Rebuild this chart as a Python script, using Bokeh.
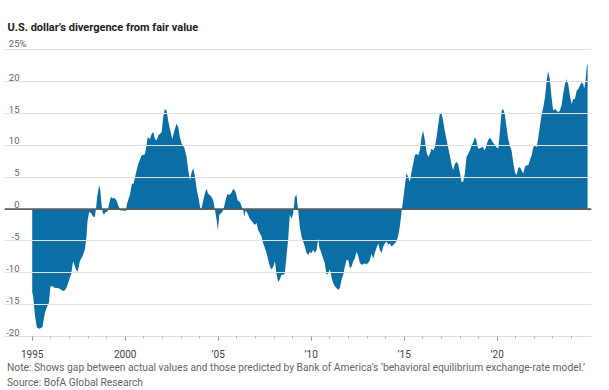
from bokeh.plotting import figure
from bokeh.models import FixedTicker, Span, ColumnDataSource, Range1d, Div
from bokeh.layouts import column
from bokeh.core.properties import value
from bokeh.embed import file_html
from bokeh.resources import INLINE

# ---- data ----
years = [
    1995.00, 1995.05, 1995.15, 1995.25, 1995.40, 1995.55, 1995.68, 1995.80, 1995.90, 1995.98,
    1996.10, 1996.22, 1996.40, 1996.58, 1996.70, 1996.84, 1996.99, 1997.10, 1997.20, 1997.35,
    1997.45, 1997.56, 1997.70, 1997.83, 1997.92, 1997.97, 1998.06, 1998.18, 1998.28, 1998.37,
    1998.43, 1998.49, 1998.60, 1998.66, 1998.72, 1998.78, 1998.85, 1998.96, 1999.05, 1999.14,
    1999.23, 1999.32, 1999.44, 1999.53, 1999.62, 1999.75, 1999.90, 2000.03, 2000.10, 2000.25,
    2000.36, 2000.45, 2000.57, 2000.70, 2000.88, 2001.06, 2001.15, 2001.20, 2001.33, 2001.42,
    2001.51, 2001.60, 2001.69, 2001.78, 2001.87, 2001.96, 2002.04, 2002.13, 2002.22, 2002.31,
    2002.40, 2002.53, 2002.64, 2002.76, 2002.85, 2002.94, 2003.03, 2003.17, 2003.30, 2003.39,
    2003.48, 2003.57, 2003.66, 2003.75, 2003.84, 2003.93, 2004.02, 2004.07, 2004.20, 2004.28,
    2004.37, 2004.46, 2004.55, 2004.64, 2004.73, 2004.79, 2004.86, 2004.93, 2004.98, 2005.06,
    2005.14, 2005.23, 2005.32, 2005.39, 2005.50, 2005.57, 2005.68, 2005.81, 2005.94, 2006.04,
    2006.17, 2006.26, 2006.35, 2006.40, 2006.47, 2006.58, 2006.70, 2006.83, 2006.97, 2007.06,
    2007.15, 2007.24, 2007.33, 2007.42, 2007.51, 2007.60, 2007.69, 2007.78, 2007.87, 2007.96,
    2008.05, 2008.13, 2008.22, 2008.31, 2008.40, 2008.49, 2008.58, 2008.67, 2008.76, 2008.85,
    2008.94, 2009.03, 2009.12, 2009.21, 2009.30, 2009.39, 2009.48, 2009.57, 2009.66, 2009.75,
    2009.84, 2009.93, 2010.02, 2010.11, 2010.20, 2010.29, 2010.38, 2010.43, 2010.55, 2010.64,
    2010.73, 2010.82, 2010.91, 2011.00, 2011.09, 2011.18, 2011.27, 2011.36, 2011.45, 2011.54,
    2011.63, 2011.72, 2011.81, 2011.90, 2011.99, 2012.08, 2012.17, 2012.26, 2012.35, 2012.44,
    2012.53, 2012.62, 2012.71, 2012.79, 2012.88, 2012.97, 2013.08, 2013.16, 2013.24, 2013.33,
    2013.42, 2013.51, 2013.60, 2013.69, 2013.78, 2013.87, 2013.96, 2014.05, 2014.14, 2014.23,
    2014.32, 2014.41, 2014.49, 2014.58, 2014.67, 2014.76, 2014.85, 2014.94, 2015.03, 2015.12,
    2015.21, 2015.30, 2015.39, 2015.48, 2015.57, 2015.66, 2015.75, 2015.84, 2015.93, 2016.02,
    2016.11, 2016.20, 2016.29, 2016.38, 2016.47, 2016.56, 2016.65, 2016.74, 2016.82, 2016.91,
    2017.00, 2017.09, 2017.18, 2017.27, 2017.36, 2017.45, 2017.54, 2017.63, 2017.72, 2017.81,
    2017.90, 2017.99, 2018.08, 2018.17, 2018.26, 2018.35, 2018.44, 2018.53, 2018.62, 2018.71,
    2018.80, 2018.88, 2018.97, 2019.06, 2019.15, 2019.24, 2019.33, 2019.42, 2019.51, 2019.61,
    2019.69, 2019.78, 2019.87, 2019.96, 2020.06, 2020.15, 2020.24, 2020.32, 2020.41, 2020.50,
    2020.59, 2020.68, 2020.77, 2020.86, 2020.95, 2021.04, 2021.13, 2021.22, 2021.31, 2021.40,
    2021.49, 2021.58, 2021.67, 2021.76, 2021.85, 2021.94, 2022.03, 2022.12, 2022.21, 2022.30,
    2022.39, 2022.48, 2022.57, 2022.66, 2022.74, 2022.83, 2022.92, 2023.01, 2023.10, 2023.19,
    2023.28, 2023.37, 2023.46, 2023.55, 2023.64, 2023.73, 2023.82, 2023.91, 2024.00, 2024.09,
    2024.18, 2024.27, 2024.36, 2024.45, 2024.54, 2024.63, 2024.68, 2024.75, 2024.82, 2024.86,
]
divergence = [
    -13.0, -13.7, -16.8, -18.6, -18.8, -18.5, -16.3, -15.3, -14.7, -12.1,
    -12.1, -12.4, -12.4, -12.7, -12.9, -12.4, -11.1, -10.1, -8.2, -9.5,
    -9.8, -8.2, -7.4, -6.4, -4.3, -2.0, -0.4, -0.7, -1.2, -1.2,
    0.1, 1.9, 3.8, 3.0, 0.9, -0.4, -0.9, -0.4, -0.4, 0.9,
    1.9, 1.7, 1.7, 1.4, 0.6, -0.2, -0.2, -0.3, 0.9, 2.2,
    4.0, 4.0, 5.6, 7.1, 8.4, 8.6, 10.0, 11.3, 11.0, 11.8,
    12.1, 11.0, 10.8, 11.6, 11.8, 12.1, 14.4, 15.7, 15.5, 13.9,
    12.6, 11.0, 12.3, 13.4, 12.9, 11.3, 10.3, 9.7, 8.2, 6.1,
    4.5, 5.8, 6.4, 5.1, 3.2, 1.9, 0.4, -0.2, 1.4, 2.4,
    3.2, 2.4, 2.2, 1.9, 1.4, 0.4, -0.7, -2.0, -3.3, -0.9,
    -0.7, -0.4, 0.4, 1.4, 2.4, 2.2, 2.4, 3.2, 2.7, 1.4,
    1.1, 0.4, -0.2, -1.2, -0.2, -0.7, -1.5, -2.0, -2.5, -2.2,
    -3.3, -3.8, -4.3, -5.4, -6.1, -6.9, -8.0, -9.0, -9.5, -9.0,
    -8.2, -10.1, -11.4, -11.1, -10.3, -10.3, -10.1, -7.4, -4.8, -0.9,
    -1.5, -0.7, 1.9, 2.2, -0.2, -2.8, -4.3, -5.1, -5.9, -6.9,
    -7.2, -6.7, -6.9, -6.4, -6.9, -6.4, -4.6, -5.9, -6.9, -7.7,
    -8.5, -10.3, -10.1, -9.5, -10.6, -11.6, -12.1, -12.4, -12.7, -12.4,
    -11.1, -10.3, -9.0, -8.0, -8.0, -9.3, -9.0, -8.2, -7.7, -6.7,
    -7.4, -8.5, -8.7, -8.7, -8.5, -8.7, -8.4, -8.0, -7.0, -7.8,
    -6.9, -6.1, -5.4, -6.4, -6.9, -5.9, -5.4, -5.1, -5.6, -5.4,
    -5.9, -5.6, -5.4, -5.1, -4.3, -2.8, -0.7, 1.4, 3.5, 5.6,
    5.1, 4.3, 5.8, 7.1, 8.4, 8.7, 8.4, 9.2, 11.3, 12.3,
    10.8, 9.0, 8.2, 8.7, 9.5, 9.2, 9.7, 11.3, 13.1, 14.9,
    15.2, 13.9, 12.3, 11.0, 9.7, 8.4, 7.1, 6.1, 7.1, 7.4,
    7.1, 5.8, 4.3, 4.3, 5.6, 8.2, 8.7, 9.2, 10.0, 10.5,
    11.3, 10.8, 9.5, 9.5, 9.7, 9.7, 9.2, 10.0, 10.8, 11.2,
    10.9, 10.4, 10.1, 9.7, 9.5, 12.3, 15.5, 15.7, 14.9, 12.9,
    11.0, 10.0, 9.2, 7.4, 5.8, 5.3, 6.4, 6.6, 6.1, 5.6,
    6.6, 6.9, 6.9, 7.7, 8.4, 9.7, 10.0, 9.7, 11.3, 13.1,
    14.9, 16.0, 17.6, 20.2, 21.7, 20.4, 17.6, 15.5, 15.7, 15.5,
    15.2, 15.5, 16.3, 18.1, 19.6, 20.4, 19.6, 17.8, 16.5, 17.3,
    17.3, 18.6, 18.9, 19.4, 19.9, 19.6, 18.9, 20.2, 22.5, 22.8,
]

y_ticks = [-20, -15, -10, -5, 0, 5, 10, 15, 20, 25]
y_tick_labels = ["-20", "-15", "-10", "-5", "0", "5", "10", "15", "20", "25%"]
x_major_ticks = [1995, 2000, 2005, 2010, 2015, 2020]
x_major_labels = ["1995", "2000", "\u201905", "\u201910", "\u201915", "\u201920"]
x_minor_ticks = list(range(1995, 2025))

title_text = "U.S. dollar\u2019s divergence from fair value"
note_text = ("Note: Shows gap between actual values and those predicted by Bank of America\u2019s "
             "\u2018behavioral equilibrium exchange-rate model.\u2019")
source_text = "Source: BofA Global Research"

# ---- styling ----
FONT = "Roboto"
BLUE = "#0b6fa6"
X0, X1 = 1993.51, 2025.07

p = figure(width=609, height=362, output_backend="svg", toolbar_location=None,
           x_range=Range1d(X0, X1), y_range=Range1d(-20, 26),
           y_axis_location=None, min_border_left=4, min_border_right=18,
           min_border_top=43, min_border_bottom=25, background_fill_color="white",
           border_fill_color="white", outline_line_color=None, margin=0)

src = ColumnDataSource(dict(x=years, y=divergence))
p.varea(x="x", y1=0, y2="y", source=src, fill_color=BLUE)

# grid
p.xgrid.visible = False
p.ygrid.ticker = FixedTicker(ticks=y_ticks)
p.ygrid.grid_line_color = "#e2e2e2"
p.ygrid.grid_line_width = 1
p.ygrid.level = "guide"

zero = Span(location=0, dimension="width", line_color="#5c5c5c", line_width=1.6)
p.add_layout(zero)

# y labels inside plot, sitting above gridlines: numbers right-aligned,
# the top label (with its % sign) hanging to the right
p.text(x=[X0] * (len(y_ticks) - 1), y=y_ticks[:-1], text=y_tick_labels[:-1],
       x_offset=15, y_offset=-1, text_align="right", text_baseline="bottom",
       text_font=value(FONT), text_font_size="9.5px", text_color="#666666", level="overlay")
p.text(x=[X0], y=y_ticks[-1:], text=y_tick_labels[-1:], x_offset=4.3, y_offset=-1,
       text_align="left", text_baseline="bottom", text_font=value(FONT),
       text_font_size="9.5px", text_color="#666666", level="overlay")

# x axis
ax = p.xaxis[0]
ax.ticker = FixedTicker(ticks=x_major_ticks, minor_ticks=x_minor_ticks)
ax.major_label_overrides = {t: l for t, l in zip(x_major_ticks, x_major_labels)}
ax.axis_line_color = "#dddddd"
ax.axis_line_width = 1
ax.major_tick_in = 0
ax.major_tick_out = 4
ax.minor_tick_in = 0
ax.minor_tick_out = 2
ax.major_tick_line_color = "#888888"
ax.minor_tick_line_color = "#aaaaaa"
ax.major_label_standoff = 8
ax.major_label_text_font = FONT
ax.major_label_text_font_size = "10px"
ax.major_label_text_color = "#444444"

# title
p.title.text = title_text
p.title.align = "left"
p.title.offset = 3
p.title.text_font = FONT
p.title.text_font_size = "11px"
p.title.text_font_style = "bold"
p.title.text_color = "#222222"
p.title.standoff = 19

notes = Div(
    text=(f'<div style="font-family:Roboto;font-size:10.25px;line-height:15px;'
          f'color:#666666;margin-top:-2px;padding-left:7px;white-space:nowrap">'
          f'{note_text}<br>{source_text}</div>'),
    width=609, height=27, margin=0)

layout = column(p, notes, spacing=0, margin=0)
open("out.html", "w").write(file_html(layout, INLINE))
